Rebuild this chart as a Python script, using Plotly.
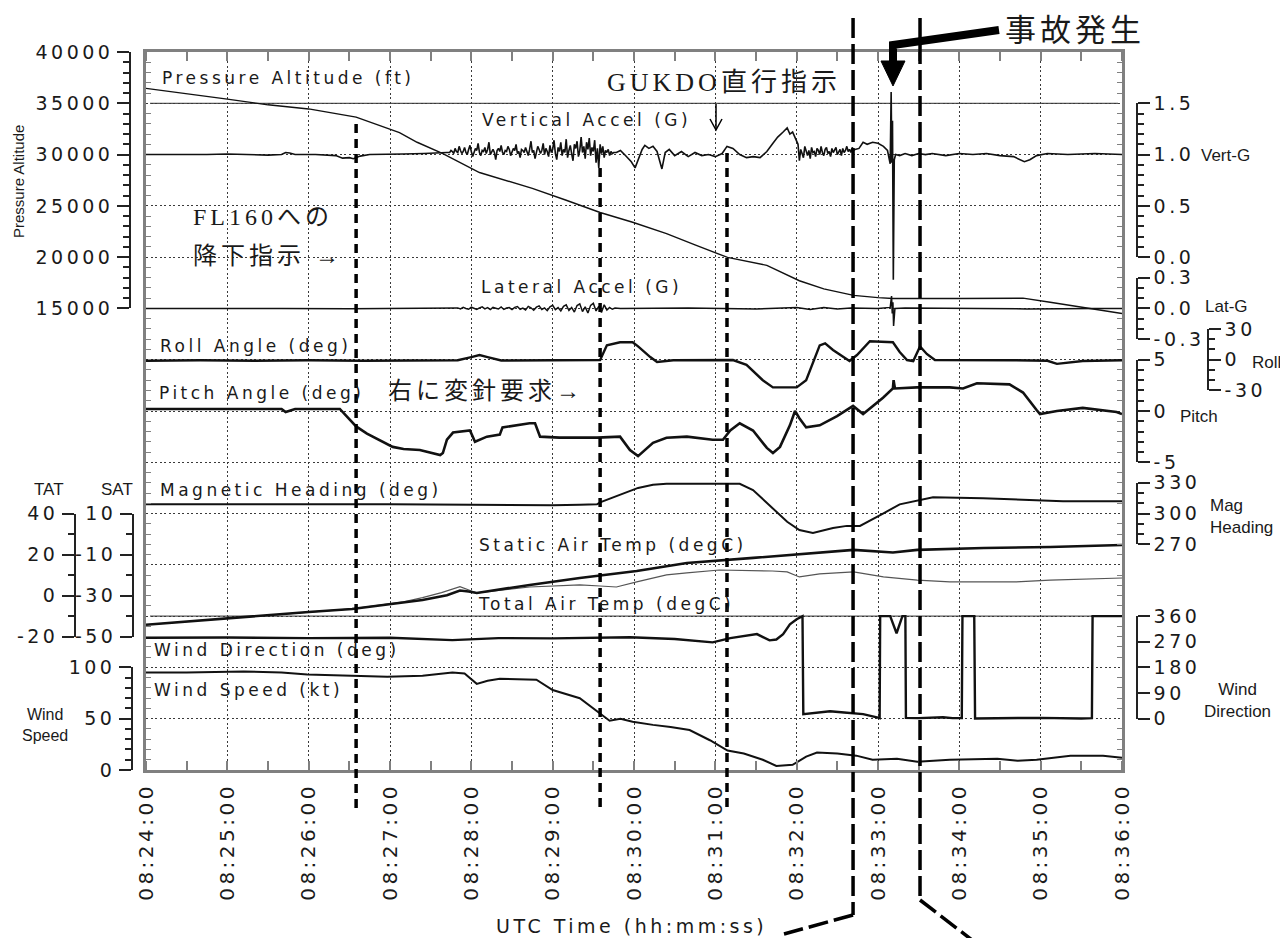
import plotly.graph_objects as go

# ---------------- data (time in seconds after 08:24:00) ----------------
time_ticks = [0, 60, 120, 180, 240, 300, 360, 420, 480, 540, 600, 660, 720]
time_labels = ["08:24:00", "08:25:00", "08:26:00", "08:27:00", "08:28:00", "08:29:00",
               "08:30:00", "08:31:00", "08:32:00", "08:33:00", "08:34:00", "08:35:00", "08:36:00"]

alt_t = [0, 30, 60, 90, 120, 155, 178, 187, 200, 219, 246, 270, 285, 310, 335, 359, 384, 405,
         429, 458, 482, 500, 522, 540, 551, 600, 647, 667, 691, 705, 720]
alt_v = [36450, 35950, 35400, 34850, 34450, 33650, 32600, 32150, 31200, 30100, 28250, 27300, 26700,
         25550, 24350, 23400, 22300, 21200, 19970, 19200, 17700, 16900, 16270, 16050, 15970, 15970,
         16000, 15600, 15100, 14800, 14500]

vg_t1 = [0, 15, 30, 45, 60, 75, 90, 100, 103, 106, 110, 125, 140, 145, 150, 153, 158, 165, 175,
         190, 205, 215, 222]
vg_v1 = [1.00, 1.00, 0.995, 1.00, 1.005, 1.00, 0.995, 1.00, 1.02, 1.015, 1.00, 1.00, 0.99, 0.965,
         0.97, 0.96, 0.985, 1.00, 1.00, 1.005, 1.01, 1.02, 1.02]
vg_t2 = list(range(224, 346))
vg_v2 = [1.02, 1.04, 1.03, 1.01, 1.06, 1.03, 1.02, 1.08, 1.04, 1.01, 1.03, 1.07, 1.02, 1.00, 1.05, 1.09,
         1.03, 0.98, 1.02, 1.06, 1.04, 1.11, 1.02, 0.99, 1.04, 1.03, 1.07, 1.01, 1.05, 1.12, 1.00, 1.03, 1.05, 1.02, 0.95, 1.04,
         1.06, 1.03, 1.09, 1.02, 1.00, 1.04, 1.03, 1.08, 1.05, 0.99, 1.02, 1.06, 1.04, 1.10, 1.01, 1.03, 0.97, 1.05, 1.04, 1.02,
         1.07, 1.03, 0.99, 1.05, 1.13, 1.02, 1.04, 0.96, 1.03, 1.08, 1.05, 1.01, 1.04, 1.11, 1.00, 1.06, 1.03, 0.98, 1.09, 1.02,
         1.05, 1.14, 1.01, 0.95, 1.07, 1.03, 1.12, 0.99, 1.05, 1.02, 1.15, 0.97, 1.04, 1.09, 1.01, 0.94, 1.10, 1.06, 1.13, 0.98,
         1.04, 1.17, 1.02, 1.08, 0.96, 1.12, 1.05, 1.16, 0.99, 1.07, 1.03, 1.14, 0.92, 1.06, 0.87, 1.10, 1.01, 1.08, 0.97, 1.04,
         1.02, 1.05, 0.99, 1.03, 1.01, 1.02]
vg_t3 = [347, 350, 353, 356, 358, 360.8, 363, 366, 368, 371, 374, 377, 380.6, 383, 386, 390, 395, 400,
         405, 410, 415, 420, 425, 428.6, 433, 438, 443, 448, 453, 458, 462.5, 466, 470, 473, 475, 477, 479, 481]
vg_v3 = [1.02, 1.04, 1.00, 0.96, 0.93, 0.87, 0.95, 1.05, 1.09, 1.06, 1.08, 1.03, 0.86, 1.02, 1.05, 0.99,
         1.03, 0.98, 1.02, 0.99, 1.00, 0.98, 1.01, 1.08, 1.06, 1.00, 0.97, 0.98, 0.97, 1.03, 1.11, 1.17,
         1.22, 1.26, 1.20, 1.22, 1.16, 1.10]
vg_t4 = list(range(482, 524))
vg_v4 = [0.94, 1.05, 1.01, 0.97, 1.08, 1.03, 0.99, 1.04, 0.96, 1.07, 1.02, 1.03, 0.98, 1.06, 1.04, 1.00,
         1.08, 1.02, 0.99, 1.05, 1.07, 1.01, 1.03, 0.98, 1.06, 1.02, 1.04, 1.07, 1.00, 1.03, 1.05, 0.99,
         1.06, 1.02, 1.04, 1.08, 1.03, 1.05, 1.02, 1.07, 1.04, 1.05]
vg_t5 = [526, 529, 532, 536, 540, 544, 547, 549, 549.7, 550.2, 550.7, 551.3, 552, 553, 556, 560, 565,
         570, 575, 580, 590, 600, 610, 620, 630, 640, 645, 648, 652, 657, 665, 680, 700, 720]
vg_v5 = [1.06, 1.12, 1.10, 1.12, 1.11, 1.08, 1.04, 0.91, 1.61, 0.92, 1.33, -0.22, 0.95, 1.00, 0.99,
         1.01, 0.99, 1.01, 1.00, 1.01, 0.99, 1.01, 1.00, 1.01, 0.99, 0.98, 0.95, 0.93, 0.95, 0.99, 1.01,
         1.00, 1.01, 1.00]

lg_t1 = [0, 50, 100, 150, 200, 228]
lg_v1 = [0.0, 0.003, 0.0, -0.003, 0.0, 0.005]
lg_t2 = list(range(230, 348, 2))
lg_v2 = [0.005, -0.005, 0.01, 0.0, -0.008, 0.012, 0.003, -0.01, 0.006, 0.015, -0.004, 0.008, -0.012,
         0.01, 0.002, -0.006, 0.014, -0.01, 0.004, 0.008,
         -0.012, 0.01, 0.018, -0.008, 0.004, -0.015, 0.02, 0.006, -0.018, 0.012, 0.025, -0.01, 0.005,
         -0.022, 0.015, 0.03, -0.012, 0.008, -0.025, 0.02,
         0.035, -0.02, 0.01, -0.035, 0.028, 0.045, -0.03, 0.015, -0.045, 0.03, 0.05, -0.025, 0.02,
         -0.04, 0.035, -0.015, 0.01, -0.008, 0.004]
lg_t3 = [350, 400, 450, 480, 490, 500, 510, 520, 540, 549, 550, 550.5, 551, 551.5, 552.5, 560, 600,
         650, 700, 720]
lg_v3 = [0.0, 0.005, -0.005, 0.01, -0.01, 0.01, -0.005, 0.005, 0.0, 0.01, 0.12, -0.05, 0.06, -0.17,
         0.0, 0.005, 0.0, -0.005, 0.0, 0.0]

roll_t = [0, 40, 80, 120, 160, 200, 230, 240, 246, 252, 262, 300, 330, 335, 340, 349.7, 359, 363,
          372, 377, 389, 423, 433, 443, 455, 462.5, 480, 487, 497, 501, 506.8, 519, 524.5, 534, 551,
          556, 561.4, 566, 571, 576, 582, 640, 665, 672, 691, 720]
roll_v = [-1, -0.5, -1, -0.5, -1, -0.5, -0.5, 2.6, 4.6, 2.6, -0.8, -0.5, -0.5, -0.3, 14, 17, 17, 13,
          2.6, -2.2, -0.5, -0.5, -0.3, -5, -20, -27, -27, -20, 14, 16, 9.5, -1.3, 4.6, 18, 17, 7.5,
          -0.3, -1.3, 13, 5.6, -0.3, -0.5, -1, -4, -1.3, -0.5]

pitch_t = [0, 50, 100, 103, 110, 143, 155, 163, 182, 190, 202, 217, 219, 222, 226.5, 239, 242.7, 251.5,
           261, 263, 283, 287, 290.7, 305, 332.7, 349.7, 357, 363, 374, 384, 399, 418, 425.6, 431,
           438, 447.8, 458, 462.5, 467.7, 475, 478.8, 482, 487, 497, 509.8, 521.6, 529, 543.7, 551,
           551.5, 552.5, 568.8, 593, 602.7, 613, 637, 647, 657, 659.5, 672, 691, 716, 720]
pitch_v = [0.2, 0.2, 0.2, -0.1, 0.2, 0.2, -1.5, -2.2, -3.5, -3.7, -3.8, -4.3, -4.1, -2.8, -2.1, -1.9,
           -3.0, -2.5, -2.3, -1.6, -1.2, -1.2, -2.5, -2.6, -2.6, -2.5, -3.8, -4.4, -3.1, -2.6, -2.5,
           -2.8, -2.8, -1.9, -1.2, -1.9, -3.6, -4.1, -3.5, -1.4, 0.0, -0.7, -1.6, -1.4, -0.5, 0.5,
           -0.3, 1.3, 2.2, 3.0, 2.2, 2.3, 2.3, 2.2, 2.7, 2.6, 1.8, 0.1, -0.3, 0.0, 0.3, -0.1, -0.3]

hdg_t = [0, 60, 120, 180, 240, 270, 300, 320, 332.7, 335, 349.7, 363, 374, 384, 423, 438, 447.8,
         462.5, 473, 482, 492, 506.8, 517, 526.7, 534, 543.7, 556, 571, 580.6, 617.5, 667, 676.5, 720]
hdg_v = [309, 309, 309.5, 309, 308.5, 308, 308, 308.5, 309, 311, 318, 325, 328, 329, 329, 329, 323,
         305, 292, 284, 281, 286, 288, 288, 293, 300, 309, 313, 316, 315, 313, 312, 312]

sat_t = [0, 60, 120, 152, 204, 222, 231.6, 238, 244, 283, 320, 362, 399, 448, 473, 497, 522, 551,
         569, 618, 667, 720]
sat_v = [-44.2, -41.0, -38.0, -36.5, -32.1, -29.8, -27.5, -28.0, -28.7, -24.8, -21.4, -18.0, -14.1,
         -11.6, -10.2, -9.2, -7.7, -9.0, -7.7, -6.8, -6.3, -5.3]

tat_t = [0, 60, 120, 152, 190, 204, 218, 231.6, 244, 283, 320, 335, 347, 362, 384, 399, 423, 462,
         473, 482, 497, 522, 544, 569, 593, 642, 667, 720]
tat_v = [-14.2, -11.0, -8.0, -6.5, -3.0, -1.0, 1.5, 4.4, 1.3, 4.2, 5.2, 4.7, 4.2, 6.7, 10.1, 11.1,
         12.5, 12.0, 11.6, 9.1, 10.6, 11.6, 9.1, 7.6, 6.7, 6.7, 7.6, 8.6]

wd_t = [0, 60, 120, 180, 226, 260, 300, 357, 390, 418, 431, 450.7, 460, 465, 470, 475, 480, 483.5,
        484.3, 484.9, 495, 504.6, 515, 529, 540, 541.2, 541.6, 549, 553.7, 558, 560.2, 560.6, 570,
        588, 595, 601.8, 602.3, 611, 611.6, 630, 660, 690, 697.8, 698.3, 720]
wd_v = [284, 285, 283, 284, 276, 283, 282, 286, 280, 268, 283, 297, 275, 278, 297, 331, 349, 358,
        360, 16, 20, 26, 22, 16, 4, 2, 360, 360, 300, 360, 360, 3, 2, 5, 2, 2, 360, 360, 1, 2, 3, 1,
        2, 360, 360]

ws_t = [0, 30, 72, 100, 119, 150, 178, 204, 226, 235, 244, 252, 261, 288, 300, 320, 335, 342, 350,
        359, 374, 387, 401, 416, 429, 441, 455, 465, 477, 487, 495, 510, 524, 536, 554, 569, 593,
        628, 643, 657, 682, 706, 720]
ws_v = [95, 95, 96, 95, 93, 92, 91, 92, 95, 94, 84, 87, 89, 88, 78, 70, 55, 48, 50, 47, 44, 42, 39,
        29, 19, 16, 10, 4, 5, 13, 17, 16, 14, 10, 11, 8, 10, 11, 9, 10, 14, 14, 12]

event_t = [155, 335, 428.6, 521.6, 571]

# ---------------- layout helpers ----------------
W, H = 1280, 938
XL, XR, YT, YB = 146, 1122, 52, 770
NU = 14
TXT = "#1a1a1a"
GRID = "#3a3a3a"
GRID_DASH = "2px,2.5px"
F_DV = "DejaVu Sans"
F_AR = "Liberation Sans Narrow, Liberation Sans, Arial"
F_JP = "Liberation Serif, Noto Sans CJK JP"


def px(x):
    return x / W


def py(y):
    return 1 - y / H


Y0, Y1 = py(YB), py(YT)


def uy(u):
    return Y0 + u / NU * (Y1 - Y0)


def pix2t(x):
    return (x - XL) / (XR - XL) * 720


# channel scale: value at reference grid row, that row, value per row
scales = {
    "alt": (15000, 9, 5000), "vg": (0, 10, 0.5), "lg": (0, 9, 0.5), "roll": (0, 8, 50),
    "pitch": (0, 7, 5), "hdg": (300, 5, 50), "sat": (10, 5, 25), "tat": (40, 5, 25),
    "wd": (0, 1, 180), "ws": (0, 0, 50),
}
order = ["alt", "vg", "lg", "roll", "pitch", "hdg", "tat", "sat", "wd", "ws"]
series = {
    "alt": (alt_t, alt_v, 1.4, "#111"),
    "vg": (vg_t1 + vg_t2 + vg_t3 + vg_t4 + vg_t5, vg_v1 + vg_v2 + vg_v3 + vg_v4 + vg_v5, 1.6, "#111"),
    "lg": (lg_t1 + lg_t2 + lg_t3, lg_v1 + lg_v2 + lg_v3, 1.5, "#111"),
    "roll": (roll_t, roll_v, 2.4, "#111"),
    "pitch": (pitch_t, pitch_v, 2.6, "#111"),
    "hdg": (hdg_t, hdg_v, 2.0, "#111"),
    "tat": (tat_t, tat_v, 1.2, "#555"),
    "sat": (sat_t, sat_v, 2.6, "#111"),
    "wd": (wd_t, wd_v, 2.4, "#111"),
    "ws": (ws_t, ws_v, 2.0, "#111"),
}

layout = dict(
    template="none",
    width=W, height=H, margin=dict(l=0, r=0, t=0, b=0, pad=0, autoexpand=False),
    paper_bgcolor="white", plot_bgcolor="rgba(0,0,0,0)", showlegend=False,
)
layout["xaxis"] = dict(
    domain=[px(XL), px(XR)], range=[0, 720], tickvals=time_ticks, ticktext=time_labels,
    tickangle=-90, ticks="", showgrid=True, gridcolor=GRID, griddash=GRID_DASH, gridwidth=1,
    showline=True, linecolor="#808080", linewidth=3, mirror="allticks", zeroline=False,
    automargin=False,
    minor=dict(ticks="inside", tick0=0, dtick=30, ticklen=9, tickcolor="#808080", tickwidth=1.5,
               showgrid=False),
    tickfont=dict(family=F_DV, size=20, color=TXT), ticklabelstandoff=2, anchor="y",
)
layout["yaxis"] = dict(
    domain=[Y0, Y1], range=[0, NU], tick0=0, dtick=1, showgrid=True, gridcolor=GRID,
    griddash=GRID_DASH, gridwidth=1, showticklabels=False, ticks="", showline=True,
    linecolor="#808080", linewidth=3, mirror="allticks", zeroline=False, automargin=False,
    anchor="x",
    minor=dict(ticks="inside", tick0=0, dtick=0.2, ticklen=5, tickcolor="#808080", tickwidth=1.2,
               showgrid=False),
)
layout["xaxis2"] = dict(domain=[px(XL), px(XR)], range=[0, 720], visible=False, anchor="free",
                        position=0, automargin=False)

# base grid subplot needs a trace of its own
traces = [go.Scatter(x=[None], y=[None], xaxis="x", yaxis="y", mode="lines", hoverinfo="skip")]
for i, key in enumerate(order, start=2):
    v, u, per = scales[key]
    layout[f"yaxis{i}"] = dict(overlaying="y", range=[v - u * per, v + (NU - u) * per],
                               visible=False, anchor="x", automargin=False)
    tt, vv, w, c = series[key]
    traces.append(go.Scatter(x=tt, y=vv, mode="lines", xaxis="x", yaxis=f"y{i}",
                             line=dict(color=c, width=w), hoverinfo="skip"))

brackets = [
    ("alt", [15000, 20000, 25000, 30000, 35000, 40000],
     ["15000", "20000", "25000", "30000", "35000", "40000"], 1000, "left", 130),
    ("vg", [0, 0.5, 1.0, 1.5], ["0.0", "0.5", "1.0", "1.5"], 0.1, "right", 1137),
    ("lg", [-0.3, 0, 0.3], ["-0.3", "0.0", "0.3"], 0.1, "right", 1137),
    ("roll", [-30, 0, 30], ["-30", "0", "30"], 10, "right", 1208),
    ("pitch", [-5, 0, 5], ["-5", "0", "5"], 1, "right", 1137),
    ("hdg", [270, 300, 330], ["270", "300", "330"], 10, "right", 1137),
    ("tat", [-20, 0, 20, 40], ["-20", "0", "20", "40"], 10, "left", 75),
    ("sat", [-50, -30, -10, 10], ["-50", "-30", "-10", "10"], 10, "left", 133),
    ("wd", [0, 90, 180, 270, 360], ["0", "90", "180", "270", "360"], None, "right", 1137),
    ("ws", [0, 50, 100], ["0", "50", "100"], 10, "left", 132),
]
for j, (key, tv, tt, mdt, side, xp) in enumerate(brackets, start=12):
    v, u, per = scales[key]
    lo, hi = tv[0], tv[-1]
    ax = dict(
        domain=[uy(u + (lo - v) / per), uy(u + (hi - v) / per)], range=[lo, hi],
        anchor="free", position=px(xp), side=side, tickmode="array", tickvals=tv, ticktext=tt,
        ticks="outside", ticklen=12, tickwidth=1.5, tickcolor="#222", showline=True,
        linecolor="#222", linewidth=1.5, showgrid=False, zeroline=False, automargin=False,
        tickfont=dict(family=F_DV, size=19, color=TXT),
    )
    if mdt:
        ax["minor"] = dict(ticks="outside", tick0=lo, dtick=mdt, ticklen=6, tickwidth=1.5,
                           tickcolor="#222", showgrid=False)
    layout[f"yaxis{j}"] = ax
    traces.append(go.Scatter(x=[None], y=[None], xaxis="x2", yaxis=f"y{j}", mode="lines",
                             hoverinfo="skip"))

# ---------------- annotations ----------------
anns = []


def ann(text, x, y, size, family, xanchor="left", color=TXT, angle=0, align="left"):
    anns.append(dict(text=text, x=px(x), y=py(y), xref="paper", yref="paper", showarrow=False,
                     xanchor=xanchor, yanchor="middle", align=align, textangle=angle,
                     font=dict(family=family, size=size, color=color)))


for text, x, y in [("Pressure Altitude (ft)", 160, 78), ("Vertical Accel (G)", 480, 120),
                   ("Lateral Accel (G)", 479, 287), ("Roll Angle (deg)", 158, 346),
                   ("Pitch Angle (deg)", 157, 393), ("Magnetic Heading (deg)", 158, 490),
                   ("Static Air Temp (degC)", 477, 545), ("Total Air Temp (degC)", 476, 604),
                   ("Wind Direction (deg)", 152, 650), ("Wind Speed (kt)", 152, 690)]:
    ann(text, x, y, 17, F_DV)

ann("UTC Time (hh:mm:ss)", 494, 926, 19, F_DV)
ann("Pressure Altitude", 18, 182, 15, "Liberation Sans", xanchor="center", angle=-90)
ann("TAT", 49, 490, 17, F_AR, xanchor="center")
ann("SAT", 117, 490, 17, F_AR, xanchor="center")
ann("Wind<br>Speed", 45, 725, 16, F_AR, xanchor="center", align="center")
ann("Vert-G", 1199, 156, 17, F_AR)
ann("Lat-G", 1203, 306, 17, F_AR)
ann("Roll", 1250, 362, 17, F_AR)
ann("Pitch", 1178, 416, 17, F_AR)
ann("Mag<br>Heading", 1208, 516, 17, F_AR)
ann("Wind<br>Direction", 1237, 700, 17, F_AR, xanchor="center", align="center")

ann("事故発生", 1003, 30, 31, F_JP)
ann("GUKDO直行指示", 605, 83, 26, F_JP)
ann("FL160への", 191, 217, 24, F_JP)
ann("降下指示 →", 191, 256, 24, F_JP)
ann("右に変針要求→", 386, 391, 24, F_JP)

# ---------------- shapes ----------------
shapes = []
ev_top = [124, 168, 153, 18, 18]
ev_bot = [808, 808, 808, 915, 900]
for k, t in enumerate(event_t):
    dash = "9px,6px" if k < 3 else "20px,6px"
    shapes.append(dict(type="line", xref="x", yref="paper", x0=t, x1=t, y0=py(ev_top[k]),
                       y1=py(ev_bot[k]), line=dict(color="black", width=3.5, dash=dash),
                       layer="above"))
shapes.append(dict(type="line", xref="x", yref="paper", x0=event_t[3], x1=pix2t(784),
                   y0=py(915), y1=py(934), line=dict(color="black", width=3.5, dash="20px,6px")))
shapes.append(dict(type="line", xref="x", yref="paper", x0=event_t[4], x1=pix2t(972),
                   y0=py(900), y1=py(940), line=dict(color="black", width=3.5, dash="20px,6px")))

# solid reference lines
for u in (13, 3):
    shapes.append(dict(type="line", xref="paper", yref="paper", x0=px(XL + 4), x1=px(XR - 4),
                       y0=uy(u), y1=uy(u), line=dict(color="#555", width=1.3), layer="below"))


def path(points, close=False):
    s = "M " + " L ".join(f"{px(a):.5f},{py(b):.5f}" for a, b in points)
    return s + (" Z" if close else "")


# accident arrow
shapes.append(dict(type="path", xref="paper", yref="paper",
                   path=path([(999, 30), (893, 45), (893, 66)]),
                   line=dict(color="black", width=8)))
shapes.append(dict(type="path", xref="paper", yref="paper",
                   path=path([(881, 61), (905, 61), (893, 86)], close=True),
                   fillcolor="black", line=dict(color="black", width=1)))
# small GUKDO arrow
shapes.append(dict(type="line", xref="paper", yref="paper", x0=px(716), x1=px(716),
                   y0=py(104), y1=py(129), line=dict(color="black", width=1.5)))
shapes.append(dict(type="path", xref="paper", yref="paper",
                   path=path([(710, 119), (716, 130), (722, 119)]),
                   line=dict(color="black", width=1.5)))

layout["annotations"] = anns
layout["shapes"] = shapes

fig = go.Figure(data=traces, layout=layout)

js = """
document.body.style.margin = '0';
var gd = document.getElementById('{plot_id}');
gd.querySelectorAll('text').forEach(function (t) {
  var f = t.style.fontFamily || '';
  if (f.indexOf('DejaVu') >= 0) { t.style.letterSpacing = '3.5px'; }
  else if (f.indexOf('Serif') >= 0) { t.style.letterSpacing = '4px'; }
});
"""
fig.write_html("out.html", post_script=js, config={"displayModeBar": False})
